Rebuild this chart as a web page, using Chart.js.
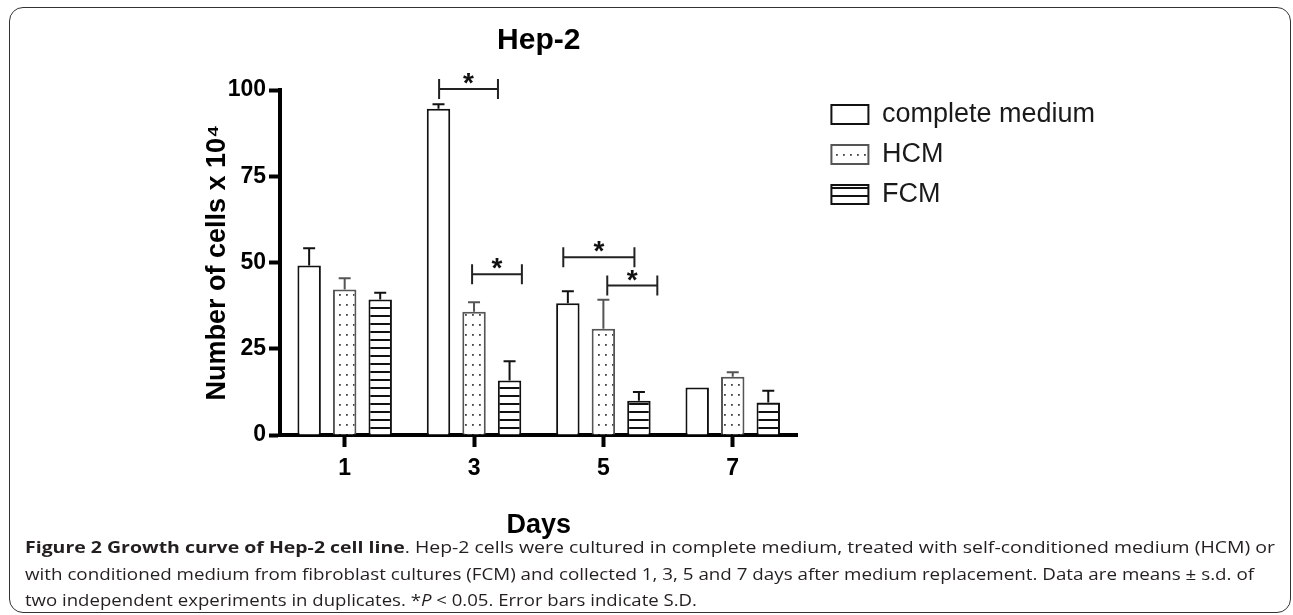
<!DOCTYPE html>
<html>
<head>
<meta charset="utf-8">
<title>Hep-2 growth curve</title>
<script src="https://cdn.jsdelivr.net/npm/chart.js@4.4.1/dist/chart.umd.min.js"></script>
<style>
  html, body { margin: 0; padding: 0; background: #fff; }
  body { width: 1293px; height: 615px; position: relative; overflow: hidden; }
  #frame {
    position: absolute; left: 9px; top: 7px; width: 1280px; height: 604px;
    border: 1.5px solid #333; border-radius: 14px;
  }
  #chart { position: absolute; left: 0; top: 0; }
  #caption {
    position: absolute; left: 25px; top: 534px;
    font-family: "Open Sans", sans-serif; font-size: 16.5px; line-height: 26.5px;
    color: #231f20; white-space: nowrap;
  }
  #caption span.line { display: inline-block; transform-origin: 0 50%; }
  #caption b { font-weight: 700; }
</style>
</head>
<body>
<div id="frame"></div>
<canvas id="chart" width="1293" height="547"></canvas>
<div id="caption">
  <span class="line" data-w="1250"><b>Figure 2 Growth curve of Hep-2 cell line</b>. Hep-2 cells were cultured in complete medium, treated with self-conditioned medium (HCM) or</span><br>
  <span class="line" data-w="1229">with conditioned medium from fibroblast cultures (FCM) and collected 1, 3, 5 and 7 days after medium replacement. Data are means ± s.d. of</span><br>
  <span class="line" data-w="672">two independent experiments in duplicates. *<i>P</i> &lt; 0.05. Error bars indicate S.D.</span>
</div>
<script>
// values (cells x 10^4)
const days = ['1', '3', '5', '7']
const seriesNames = ['complete medium', 'HCM', 'FCM']
const completeMean = [49.1, 94.6, 38.2, 13.8]
const completeSD = [5.0, 1.3, 3.5, 0]
const hcmMean = [42.2, 35.7, 30.8, 16.9]
const hcmSD = [3.2, 2.8, 8.4, 1.3]
const fcmMean = [39.3, 15.8, 9.9, 9.4]
const fcmSD = [1.9, 5.6, 2.6, 3.4]
const yTicks = [0, 25, 50, 75, 100]

// significance brackets: day index, ends (fraction of a category from its centre), height
const bracketDay = [1, 1, 2, 2]
const bracketFrom = [-0.27, -0.015, -0.31, 0.03]
const bracketTo = [0.185, 0.37, 0.24, 0.417]
const bracketY = [100.3, 46.6, 51.5, 43.3]

const FONT = "'Liberation Sans', Arial, sans-serif"

function makePattern(w, h, draw) {
    const c = document.createElement('canvas')
    c.width = w
    c.height = h
    const g = c.getContext('2d')
    g.fillStyle = '#fff'
    g.fillRect(0, 0, w, h)
    draw(g)
    return g.createPattern(c, 'repeat')
}

const dots = makePattern(7, 10, (g) => {
    g.fillStyle = '#444'
    g.fillRect(3, 4, 1.8, 1.8)
})
const stripes = makePattern(8, 8, (g) => {
    g.fillStyle = '#111'
    g.fillRect(0, 3, 8, 2)
})

const errorBars = {
    id: 'errorBars',
    afterDatasetsDraw(chart) {
        const { ctx } = chart
        const y = chart.scales.y
        chart.data.datasets.forEach((ds, i) => {
            chart.getDatasetMeta(i).data.forEach((bar, j) => {
                const sd = ds.sd[j]
                if (!sd) return
                const top = y.getPixelForValue(ds.data[j] + sd)
                ctx.save()
                ctx.strokeStyle = ds.borderColor
                ctx.lineWidth = 2
                ctx.beginPath()
                ctx.moveTo(bar.x, bar.y)
                ctx.lineTo(bar.x, top)
                ctx.moveTo(bar.x - 6, top)
                ctx.lineTo(bar.x + 6, top)
                ctx.stroke()
                ctx.restore()
            })
        })
    }
}

const brackets = {
    id: 'brackets',
    afterDraw(chart) {
        const { ctx } = chart
        const { x, y } = chart.scales
        const catW = x.width / days.length
        ctx.save()
        ctx.strokeStyle = '#222'
        ctx.fillStyle = '#111'
        ctx.lineWidth = 2
        ctx.font = `bold 28px ${FONT}`
        ctx.textAlign = 'center'
        ctx.textBaseline = 'alphabetic'
        bracketDay.forEach((d, k) => {
            const cx = x.getPixelForValue(d)
            const x1 = cx + bracketFrom[k] * catW
            const x2 = cx + bracketTo[k] * catW
            const yy = y.getPixelForValue(bracketY[k])
            ctx.beginPath()
            ctx.moveTo(x1, yy); ctx.lineTo(x2, yy)
            ctx.moveTo(x1, yy - 10); ctx.lineTo(x1, yy + 10)
            ctx.moveTo(x2, yy - 10); ctx.lineTo(x2, yy + 10)
            ctx.stroke()
            ctx.fillText('*', (x1 + x2) / 2, yy + 3)
        })
        ctx.restore()
    }
}

// nudge the legend off the plot edge, like the original figure
const legendShift = {
    id: 'legendShift',
    afterLayout(chart) {
        const lg = chart.legend
        lg.left += 21
        lg.right += 21
        lg.top -= 2
        lg.bottom -= 2
    }
}

const _dataset = (label, data, sd, fill, border) => ({
    label,
    data,
    sd,
    backgroundColor: fill,
    borderColor: border,
    borderWidth: 2,
    borderSkipped: 'bottom',
    categoryPercentage: 0.824,
    barPercentage: 0.66,
})

new Chart(document.getElementById('chart'), {
    type: 'bar',
    data: {
        labels: days,
        datasets: [
            _dataset(seriesNames[0], completeMean, completeSD, '#fff', '#111'),
            _dataset(seriesNames[1], hcmMean, hcmSD, dots, '#555'),
            _dataset(seriesNames[2], fcmMean, fcmSD, stripes, '#111'),
        ]
    },
    options: {
        responsive: false,
        animation: false,
        layout: { padding: { left: 197, right: 209, top: 10, bottom: 1 } },
        plugins: {
            tooltip: { enabled: false },
            title: {
                display: true,
                text: 'Hep-2',
                fullSize: false,
                color: '#000',
                font: { family: FONT, size: 30, weight: 'bold' },
                padding: { top: 13, bottom: 31 }
            },
            legend: {
                position: 'right',
                align: 'start',
                fullSize: false,
                maxWidth: 400,
                labels: {
                    boxWidth: 37,
                    boxHeight: 19,
                    padding: 13,
                    color: '#1a1a1a',
                    font: { family: FONT, size: 27 }
                }
            }
        },
        scales: {
            x: {
                grid: { display: true, offset: false, drawOnChartArea: false, tickLength: 12, tickWidth: 4, tickColor: '#000' },
                border: { display: true, width: 4, color: '#000' },
                ticks: { color: '#000', padding: 8, font: { family: FONT, size: 23, weight: 'bold' } },
                title: {
                    display: true,
                    text: 'Days',
                    color: '#000',
                    font: { family: FONT, size: 27, weight: 'bold' },
                    padding: { top: 19, bottom: 4 }
                }
            },
            y: {
                min: yTicks[0],
                max: yTicks[yTicks.length - 1],
                afterBuildTicks: (scale) => { scale.ticks = yTicks.map(v => ({ value: v })) },
                afterFit: (scale) => { scale.width = 83 },
                grid: { display: true, drawOnChartArea: false, tickLength: 11, tickWidth: 4, tickColor: '#000' },
                border: { display: true, width: 4, color: '#000' },
                ticks: { color: '#000', padding: 3, font: { family: FONT, size: 23, weight: 'bold' } },
                title: {
                    display: true,
                    text: 'Number of cells x 10⁴',
                    color: '#000',
                    font: { family: FONT, size: 27, weight: 'bold' },
                    padding: { top: 4, bottom: 4 }
                }
            }
        }
    },
    plugins: [errorBars, brackets, legendShift]
})

// squeeze each caption line to the width it has in the printed figure
document.querySelectorAll('#caption span.line').forEach((el) => {
    const w = el.getBoundingClientRect().width
    el.style.transform = `scaleX(${(+el.dataset.w / w).toFixed(4)})`
})
</script>
</body>
</html>
